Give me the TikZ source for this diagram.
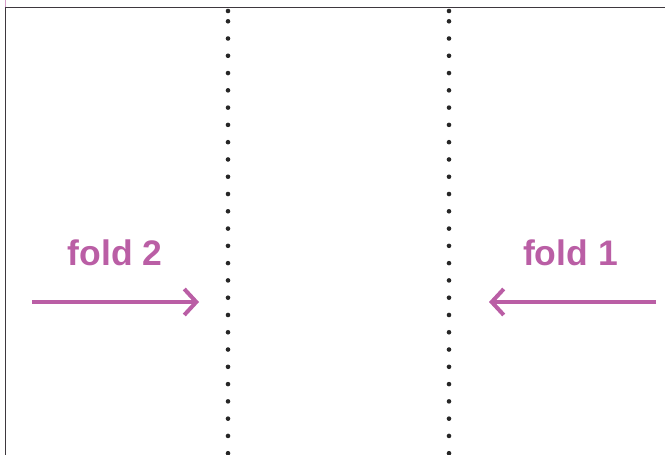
\documentclass[tikz,border=0pt]{standalone}
\usepackage{fontspec}
\setmainfont{Liberation Sans}
\usetikzlibrary{arrows.meta}
\definecolor{dobra}{RGB}{186,94,165}
\definecolor{borda}{RGB}{62,56,62}
\tikzset{
  seta/.style={dobra, line width=4pt, -{Straight Barb[length=12pt,width=26pt]}},
  rotulo/.style={text=dobra, font=\bfseries\fontsize{35.5}{36}\selectfont, anchor=base},
  ponto/.style={fill=black!85},
}
\begin{document}
\begin{tikzpicture}[x=1pt,y=-1pt]
            \useasboundingbox (0,0) rectangle (665,455);

            % Bordas da folha
            \draw[dobra!60, line width=1.8pt] (5.5,0) -- (5.5,8);
            \draw[borda, line width=1.8pt] (5.5,455) -- (5.5,7.5) -- (665,7.5);

            % Linhas de dobra pontilhadas
            \foreach \x in {228,449} {
                \fill[ponto] (\x,11) circle (2.3pt);
                \fill[ponto] (\x,21.3) circle (2.3pt);
                \foreach \k in {0,...,24}
                    \fill[ponto] (\x,38.5+17.28*\k) circle (2.3pt);
            }

            % Rótulos
            \node[rotulo] (dobra2) at (115,265) {fold 2};
            \node[rotulo] (dobra1) at (570.5,265) {fold 1};

            % Setas
            \coordinate (ini2) at (32,302);
            \coordinate (fim2) at (199,302);
            \coordinate (ini1) at (656,302);
            \coordinate (fim1) at (489,302);
            \draw[seta] (ini2) -- (fim2);
            \draw[seta] (ini1) -- (fim1);
        \end{tikzpicture}
\end{document}
